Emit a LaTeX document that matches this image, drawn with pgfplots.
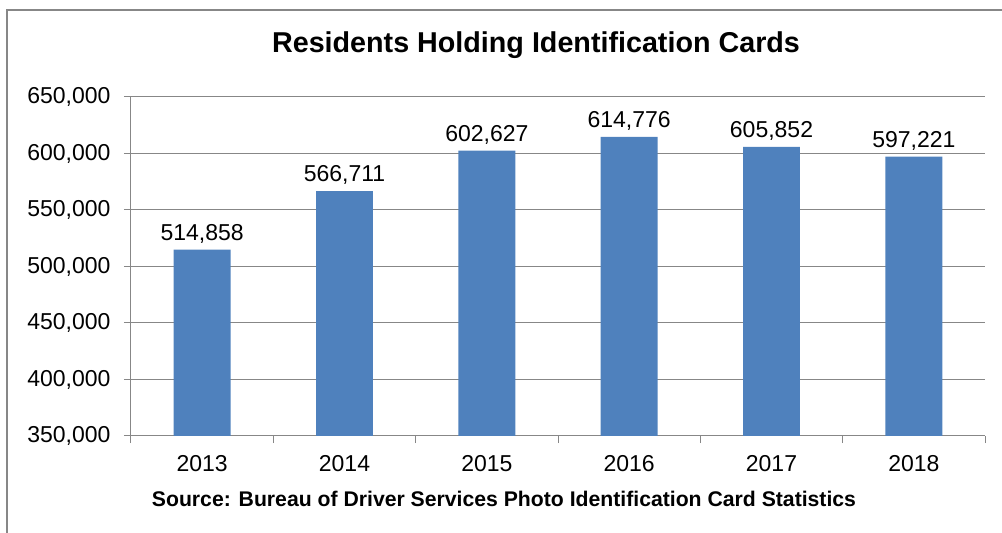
\documentclass[border=0pt]{standalone}
\usepackage{fontspec}
\setmainfont{Liberation Sans}
\usepackage{pgfplots}
\pgfplotsset{compat=1.18}

\definecolor{barblue}{HTML}{4F81BD}
\definecolor{linegray}{HTML}{878787}

\begin{document}
\begin{tikzpicture}
\path[use as bounding box] (0pt,0pt) rectangle (1002pt,533pt);
% outer chart frame (cropped on right and bottom)
\draw[linegray,line width=1.5pt] (7pt,0pt) -- (7pt,523pt) -- (1002pt,523pt);

\node[font=\fontsize{28.7}{34}\selectfont\bfseries] at (536pt,488pt) {Residents Holding Identification Cards};
\node[font=\fontsize{21.2}{25}\selectfont\bfseries] at (504pt,34pt) {Source: Bureau of Driver Services Photo Identification Card Statistics};

\begin{axis}[
    at={(131pt,97pt)}, anchor=south west,
    scale only axis,
    width=854pt, height=339pt,
    xmin=-0.5, xmax=5.5,
    ymin=350000, ymax=650000,
    ytick={350000,400000,...,650000},
    xtick={0,...,5},
    xticklabels={2013,2014,2015,2016,2017,2018},
    minor xtick={-0.5,0.5,...,5.5},
    axis x line*=bottom, axis y line*=left,
    axis line style={linegray,line width=1pt,-},
    tick align=outside,
    major tick length=7pt, minor tick length=7pt,
    major x tick style={draw=none},
    minor x tick style={linegray,line width=1pt},
    major y tick style={linegray,line width=1pt},
    ymajorgrids,
    grid style={linegray,line width=1pt},
    tick label style={font=\fontsize{23}{27}\selectfont},
    yticklabel style={xshift=-10pt},
    xticklabel style={yshift=-9pt},
    /pgf/number format/.cd, fixed, precision=0, 1000 sep={,}, assume math mode=true,
    /pgfplots/.cd,
    scaled y ticks=false,
    ybar, bar width=0.4,
    nodes near coords,
    nodes near coords style={font=\fontsize{23}{27}\selectfont, inner sep=3pt, yshift=3pt},
    ]
\addplot[fill=barblue, draw=none] coordinates {
  (0,514858) (1,566711) (2,602627) (3,614776) (4,605852) (5,597221)
};
\end{axis}
\end{tikzpicture}
\end{document}
